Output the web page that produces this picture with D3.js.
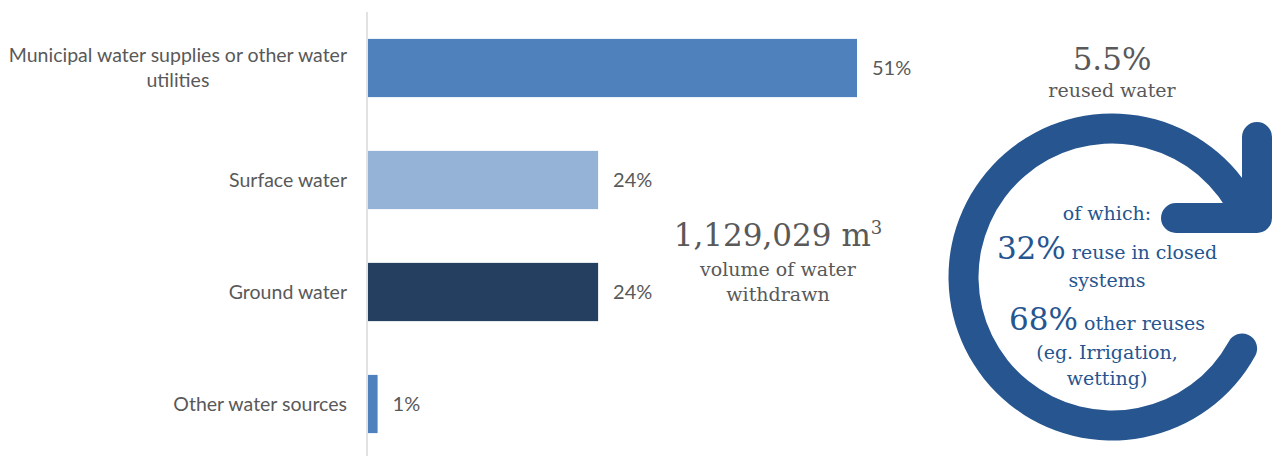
<!DOCTYPE html>
<html>
<head>
<meta charset="utf-8">
<script src="https://cdn.jsdelivr.net/npm/d3@7"></script>
<style>
  body { margin: 0; background: #fff; }
  svg { display: block; }
</style>
</head>
<body>
<div id="vis-holder"></div>
<script>
// bar chart data
let CATEGORIES = ["Municipal water supplies or other water\nutilities", "Surface water", "Ground water", "Other water sources"]
let SHARES = [51, 24, 24, 1]
let BAR_COLORS = ["#4f81bd", "#95b3d7", "#243f60", "#4f81bd"]

// headline figures
let VOLUME = 1129029
let REUSED = 5.5
let REUSE_SPLIT = [32, 68]
let REUSE_LABELS = [["reuse in closed", "systems"], ["other reuses", "(eg. Irrigation,", "wetting)"]]

var width = 1276, height = 456;
var grey = "#595959", blue = "#26558f";

var svg = d3.select("#vis-holder")
  .append("svg")
    .attr("width", width)
    .attr("height", height);

// scales
var y = d3.scaleBand()
  .domain(CATEGORIES)
  .range([12, 460])
  .paddingInner(0.48)
  .paddingOuter(0.24);

var x = d3.scaleLinear()
  .domain([0, 51])
  .range([0, 489]);

var x0 = 368;

// axis line
svg.append("line")
  .attr("x1", x0 - 1).attr("x2", x0 - 1)
  .attr("y1", 12).attr("y2", height)
  .attr("stroke", "#d9d9d9")
  .attr("stroke-width", 1.5);

// bars
svg.append("g")
  .selectAll("rect")
  .data(CATEGORIES)
  .enter()
  .append("rect")
    .attr("x", x0)
    .attr("y", d => y(d))
    .attr("width", (d, i) => x(SHARES[i]))
    .attr("height", y.bandwidth())
    .attr("fill", (d, i) => BAR_COLORS[i]);

// value labels
svg.append("g")
  .selectAll("text")
  .data(CATEGORIES)
  .enter()
  .append("text")
    .attr("x", (d, i) => x0 + x(SHARES[i]) + 15)
    .attr("y", d => y(d) + y.bandwidth() / 2)
    .attr("dy", "0.35em")
    .style("font-family", "Lato, 'Liberation Sans', sans-serif")
    .style("font-size", "20px")
    .attr("fill", grey)
    .text((d, i) => SHARES[i] + "%");

// category labels, each a centred block ending at the axis
var labels = svg.append("g")
  .selectAll("text")
  .data(CATEGORIES)
  .enter()
  .append("text")
    .style("font-family", "Lato, 'Liberation Sans', sans-serif")
    .style("font-size", "19.5px")
    .attr("fill", grey)
    .attr("text-anchor", "middle");

labels.each(function(d) {
  var lines = d.split("\n");
  var t = d3.select(this);
  var lh = 25;
  var cy = y(d) + y.bandwidth() / 2 - (lines.length - 1) * lh / 2;
  lines.forEach((l, j) => {
    t.append("tspan")
      .attr("x", 0)
      .attr("y", cy + j * lh)
      .attr("dy", "0.35em")
      .text(l);
  });
  // measure the widest line and centre the block so it ends at 347
  var w = this.getBBox().width;
  t.selectAll("tspan").attr("x", 347 - w / 2);
});

// middle total volume text
var serif = "'DejaVu Serif', serif";
var mid = svg.append("g").attr("transform", "translate(778,0)");
var vol = mid.append("text")
  .attr("y", 246)
  .attr("text-anchor", "middle")
  .style("font-family", serif)
  .attr("fill", grey);
vol.append("tspan").style("font-size", "31px").text(d3.format(",")(VOLUME) + " m");
vol.append("tspan").style("font-size", "18px").attr("dy", -12).text("3");
mid.selectAll(".sub")
  .data(["volume of water", "withdrawn"])
  .enter()
  .append("text")
    .attr("y", (d, i) => 276 + i * 25)
    .attr("text-anchor", "middle")
    .style("font-family", serif)
    .style("font-size", "19px")
    .attr("fill", grey)
    .text(d => d);

// reused water block
var cx = 1112, cy = 277, rOut = 163.5, ring = 30;
var right = svg.append("g").attr("transform", "translate(" + cx + "," + cy + ")");

right.append("text")
  .attr("y", 70 - cy)
  .attr("text-anchor", "middle")
  .style("font-family", serif)
  .style("font-size", "31px")
  .attr("fill", grey)
  .text(REUSED + "%");
right.append("text")
  .attr("y", 97 - cy)
  .attr("text-anchor", "middle")
  .style("font-family", serif)
  .style("font-size", "19px")
  .attr("fill", grey)
  .text("reused water");

// circular arrow
var deg = Math.PI / 180;
var arc = d3.arc()
  .innerRadius(rOut - ring)
  .outerRadius(rOut)
  .startAngle(113 * deg)
  .endAngle(425 * deg)
  .cornerRadius(ring / 2);
right.append("path")
  .attr("d", arc())
  .attr("fill", blue);

// arrow head: right-angle chevron at the end of the ring
var tip = [145, -59], arm = 81;
right.append("path")
  .attr("d", d3.line()([[tip[0], tip[1] - arm], tip, [tip[0] - arm, tip[1]]]))
  .attr("fill", "none")
  .attr("stroke", blue)
  .attr("stroke-width", ring)
  .attr("stroke-linecap", "round")
  .attr("stroke-linejoin", "round");

// text inside the ring
var inner = right.append("g")
  .style("font-family", serif)
  .attr("fill", blue)
  .attr("text-anchor", "middle");

inner.append("text").attr("x", -5).attr("y", 220 - cy).style("font-size", "19px").text("of which:");

var rows = [
  {y: 259, big: REUSE_SPLIT[0] + "%", rest: " " + REUSE_LABELS[0][0]},
  {y: 287, rest: REUSE_LABELS[0][1]},
  {y: 330, big: REUSE_SPLIT[1] + "%", rest: " " + REUSE_LABELS[1][0]},
  {y: 359, rest: REUSE_LABELS[1][1]},
  {y: 385, rest: REUSE_LABELS[1][2]}
];
rows.forEach(r => {
  var t = inner.append("text").attr("x", -5).attr("y", r.y - cy);
  if (r.big) t.append("tspan").style("font-size", "31px").text(r.big);
  t.append("tspan").style("font-size", "19px").text(r.rest);
});
</script>
</body>
</html>
